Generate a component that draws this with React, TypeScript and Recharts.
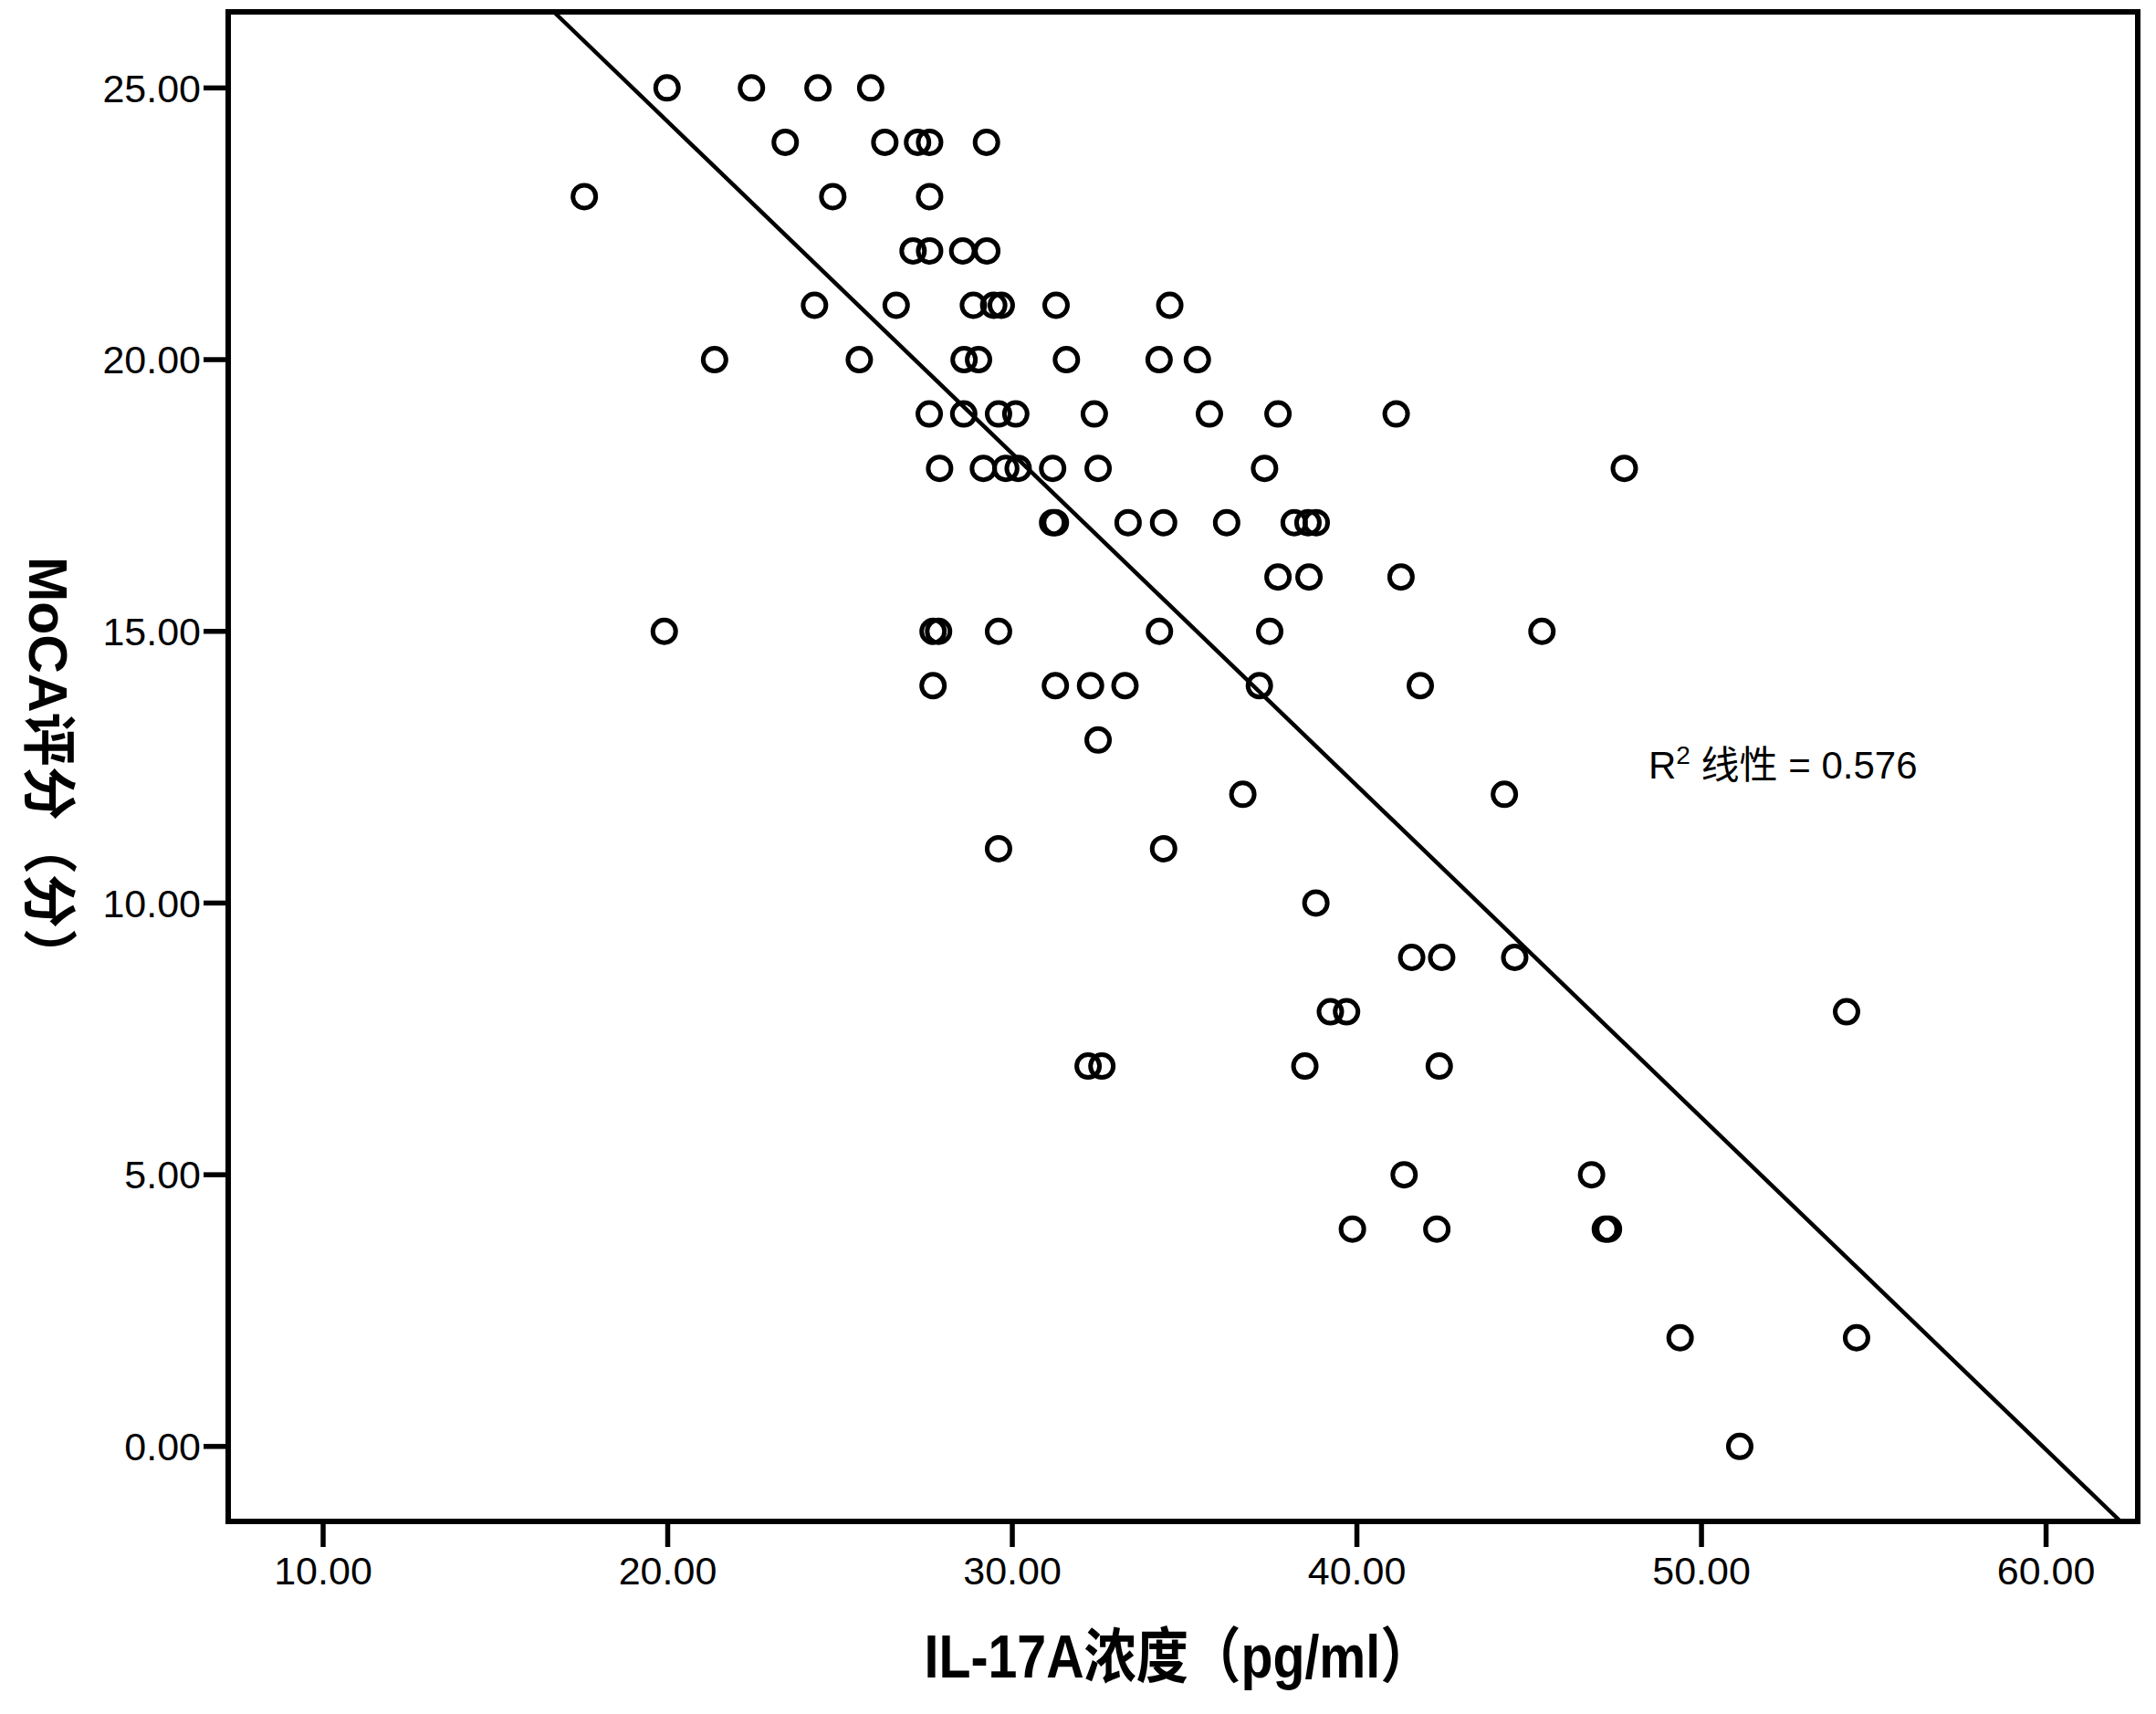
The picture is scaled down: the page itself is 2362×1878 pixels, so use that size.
import { ScatterChart, Scatter, XAxis, YAxis, ReferenceLine, ReferenceArea, ReferenceDot } from 'recharts';

// IL-17A concentration (pg/ml), one entry per patient
const il17a = [
  19.98, 22.43, 24.36, 25.89,
  23.41, 26.3, 27.25, 27.6, 29.25,
  17.58, 24.79, 27.6,
  27.12, 27.6, 28.56, 29.26,
  24.26, 26.63, 28.87, 29.46, 29.68, 31.27, 34.57,
  21.36, 25.56, 28.6, 29.02, 31.57, 34.26, 35.37,
  27.59, 28.59, 29.6, 30.1, 32.38, 35.72, 37.71, 41.14,
  27.89, 29.16, 29.81, 30.17, 31.17, 32.49, 37.32, 47.76,
  31.17, 31.25, 33.36, 34.39, 36.22, 38.18, 38.58, 38.82,
  37.71, 38.61, 41.28,
  19.9, 27.7, 27.86, 29.6, 34.27, 37.47, 45.37,
  27.7, 31.25, 32.27, 33.27, 37.17, 41.84,
  32.49,
  36.69, 44.28,
  29.6, 34.39,
  38.81,
  41.59, 42.46, 44.58,
  39.23, 39.7, 54.21,
  32.2, 32.6, 38.49, 42.39,
  41.37, 46.81,
  39.87, 42.32, 47.21, 47.3,
  49.38, 54.5,
  51.11,
];

// MoCA score (points), same order as il17a
const moca = [
  25, 25, 25, 25,
  24, 24, 24, 24, 24,
  23, 23, 23,
  22, 22, 22, 22,
  21, 21, 21, 21, 21, 21, 21,
  20, 20, 20, 20, 20, 20, 20,
  19, 19, 19, 19, 19, 19, 19, 19,
  18, 18, 18, 18, 18, 18, 18, 18,
  17, 17, 17, 17, 17, 17, 17, 17,
  16, 16, 16,
  15, 15, 15, 15, 15, 15, 15,
  14, 14, 14, 14, 14, 14,
  13,
  12, 12,
  11, 11,
  10,
  9, 9, 9,
  8, 8, 8,
  7, 7, 7, 7,
  5, 5,
  4, 4, 4, 4,
  2, 2,
  0,
];

const xTicks = [10, 20, 30, 40, 50, 60];
const yTicks = [0, 5, 10, 15, 20, 25];

// linear fit as drawn in the figure
const fitIntercept = 36.6;
const fitSlope = -0.611;
const rSquared = 0.576;

const xDomain: [number, number] = [7.245, 62.66];
const yDomain: [number, number] = [-1.38, 26.4];

const points = il17a.map((x, i) => ({ x, y: moca[i] }));

const fitStart = { x: (yDomain[1] - fitIntercept) / fitSlope, y: yDomain[1] };
const fitEnd = { x: (yDomain[0] - fitIntercept) / fitSlope, y: yDomain[0] };

const font = "'Liberation Sans', Arial, 'Noto Sans CJK SC', sans-serif";

const Ring = (props: any) => (
  <circle cx={props.cx} cy={props.cy} r={12.5} fill="none" stroke="#000" strokeWidth={5} />
);

const XTitle = (props: any) => {
  const vb = props.viewBox;
  return (
    <text
      x={vb.x + vb.width / 2 - 5}
      y={vb.y + 171}
      textAnchor="middle"
      fontFamily={font}
      fontWeight="bold"
      fontSize={66}
      textLength={557}
      lengthAdjust="spacingAndGlyphs"
      fill="#000"
    >
      IL-17A浓度（pg/ml）
    </text>
  );
};

// the y title reads top to bottom, glyphs turned clockwise
const YTitle = (props: any) => {
  const vb = props.viewBox;
  const cx = vb.x + 32;
  const cy = vb.y + vb.height / 2 + 3;
  return (
    <text
      x={cx}
      y={cy}
      transform={`rotate(90, ${cx}, ${cy})`}
      textAnchor="middle"
      fontFamily={font}
      fontWeight="bold"
      fontSize={60}
      textLength={466}
      lengthAdjust="spacingAndGlyphs"
      fill="#000"
    >
      MoCA评分（分）
    </text>
  );
};

const FitLabel = (props: any) => (
  <text x={props.cx} y={props.cy} fontFamily={font} fontSize={42} fill="#000">
    R
    <tspan dy={-16} fontSize={28}>2</tspan>
    <tspan dy={16}> 线性 = {rSquared.toFixed(3)}</tspan>
  </text>
);

export default function App() {
  return (
    <div style={{ position: 'absolute', left: 0, top: 0, background: '#fff' }}>
      <ScatterChart width={2362} height={1878} margin={{ top: 13, right: 20, bottom: 0, left: 0 }}>
        <XAxis
          type="number"
          dataKey="x"
          domain={xDomain}
          ticks={xTicks}
          allowDataOverflow
          interval={0}
          height={211}
          tickSize={28}
          tickMargin={10}
          tickFormatter={(v: number) => v.toFixed(2)}
          axisLine={false}
          tickLine={{ stroke: '#000', strokeWidth: 5.5 }}
          tick={{ fill: '#000', fontSize: 43, fontFamily: font }}
          label={{ content: XTitle }}
        />
        <YAxis
          type="number"
          dataKey="y"
          domain={yDomain}
          ticks={yTicks}
          allowDataOverflow
          interval={0}
          width={250}
          tickSize={27}
          tickMargin={3}
          tickFormatter={(v: number) => v.toFixed(2)}
          axisLine={false}
          tickLine={{ stroke: '#000', strokeWidth: 5.5 }}
          tick={{ fill: '#000', fontSize: 43, fontFamily: font }}
          label={{ content: YTitle }}
        />
        <ReferenceArea
          x1={xDomain[0]}
          x2={xDomain[1]}
          y1={yDomain[0]}
          y2={yDomain[1]}
          fill="none"
          fillOpacity={0}
          stroke="#000"
          strokeWidth={6}
        />
        <ReferenceLine
          segment={[fitStart, fitEnd]}
          stroke="#000"
          strokeWidth={4.5}
        />
        <ReferenceDot x={48.46} y={12.29} r={0} shape={FitLabel} />
        <Scatter data={points} shape={Ring} isAnimationActive={false} />
      </ScatterChart>
    </div>
  );
}
